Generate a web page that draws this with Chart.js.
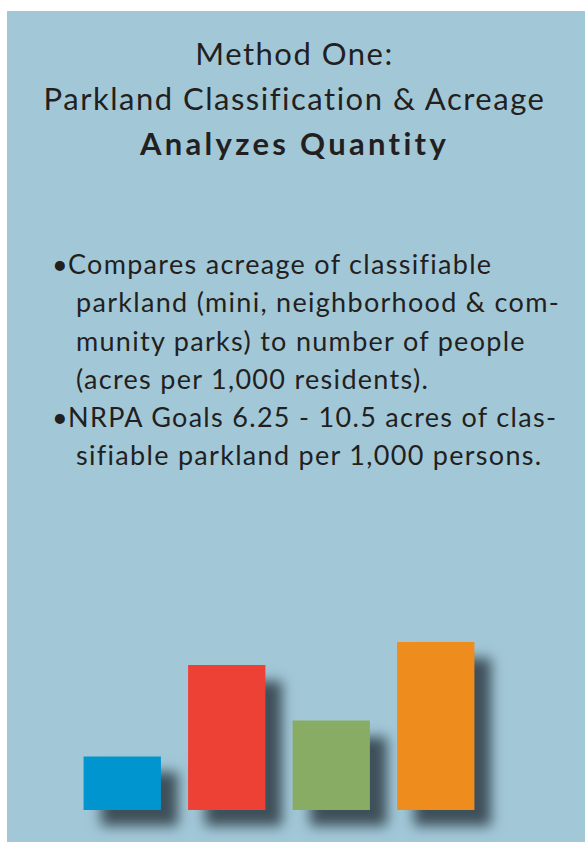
<!DOCTYPE html>
<html>
<head>
<meta charset="utf-8">
<script src="https://cdn.jsdelivr.net/npm/chart.js@4"></script>
<style>
  body { margin: 0; background: #fff; width: 585px; height: 842px; overflow: hidden; font-family: Lato, "Open Sans", sans-serif; color: #231f20; }
  #panel { position: absolute; left: 7px; top: 11px; width: 578px; height: 831px; background: #a2c8d8; }
  #title { position: absolute; left: 0; top: 31px; width: 589px; text-align: center; font-size: 31px; line-height: 45px; letter-spacing: 1.5px; }
  #title b { font-weight: 700; letter-spacing: 3.3px; }
  #bullets { position: absolute; left: 0; top: 245px; width: 585px; font-size: 27px; line-height: 38.3px; letter-spacing: 1.3px; }
  .ln { position: relative; height: 38.3px; white-space: nowrap; }
  .dot { position: absolute; left: 52px; top: 0; }
  .first { position: absolute; left: 68px; top: 0; }
  .cont { position: absolute; left: 76px; top: 0; }
  #wrap { position: absolute; left: 70px; top: 600px; width: 440px; height: 242px; }
</style>
</head>
<body>
<div id="panel"></div>
<div id="title">
  <div>Method One:</div>
  <div>Parkland Classification &amp; Acreage</div>
  <div><b>Analyzes Quantity</b></div>
</div>
<div id="bullets">
  <div class="ln"><span class="dot">•</span><span class="first">Compares acreage of classifiable</span></div>
  <div class="ln"><span class="cont">parkland (mini, neighborhood &amp; com-</span></div>
  <div class="ln"><span class="cont">munity parks) to number of people</span></div>
  <div class="ln"><span class="cont">(acres per 1,000 residents).</span></div>
  <div class="ln"><span class="dot">•</span><span class="first">NRPA Goals 6.25 - 10.5 acres of clas-</span></div>
  <div class="ln"><span class="cont">sifiable parkland per 1,000 persons.</span></div>
</div>
<div id="wrap"><canvas id="graph"></canvas></div>
<script>
const labels = ["A", "B", "C", "D"];
const values = [2.55, 6.9, 4.26, 8.0];
const colors = ["#0095cf", "#ee4136", "#88ac64", "#ef8c1e"];

// ombre portée sous les barres
const shadow = {
    id: 'shadow',
    beforeDatasetsDraw(chart) {
        const c = chart.ctx;
        c.save();
        c.shadowColor = '#3e505a';
        c.shadowOffsetX = 17;
        c.shadowOffsetY = 16;
        c.shadowBlur = 12;
    },
    afterDatasetsDraw(chart) {
        chart.ctx.restore();
    }
};

const ctx = document.getElementById('graph').getContext('2d');
const myChart = new Chart(ctx, {
    type: 'bar',
    data: {
        labels: labels,
        datasets: [{
            data: values,
            backgroundColor: colors,
            borderWidth: 0,
            categoryPercentage: 1,
            barPercentage: 0.74,
            clip: false
        }]
    },
    options: {
        responsive: true,
        maintainAspectRatio: false,
        animation: false,
        layout: { padding: { left: 0, right: 22, top: 0, bottom: 32 } },
        plugins: { legend: { display: false }, tooltip: { enabled: false } },
        scales: {
            x: { display: false },
            y: { display: false, min: 0, max: 10 }
        }
    },
    plugins: [shadow]
});
</script>
</body>
</html>
